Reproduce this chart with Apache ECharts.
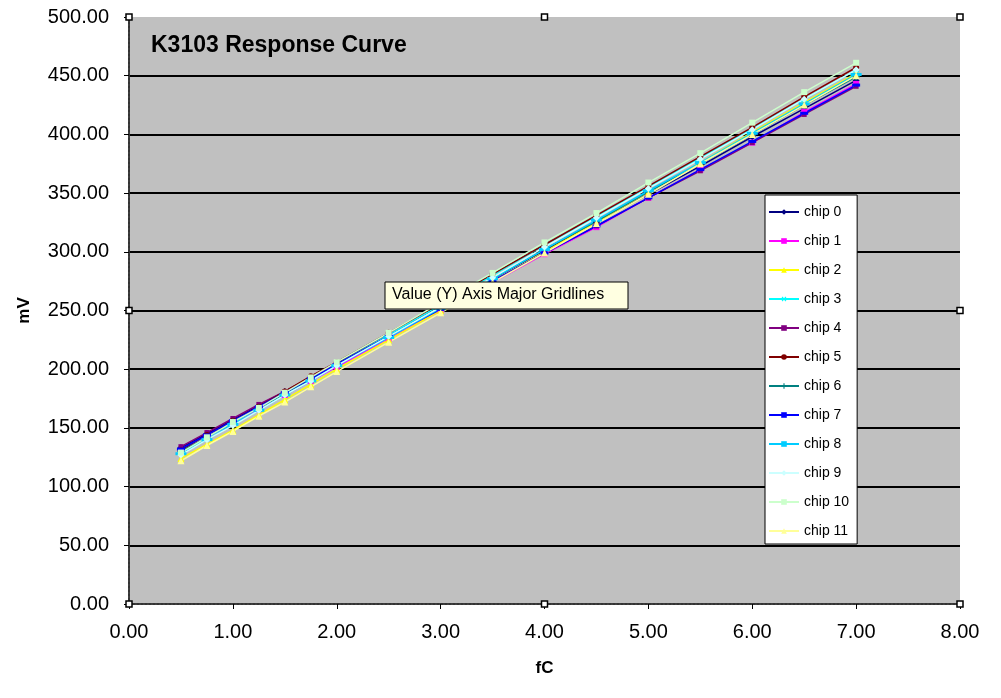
<!DOCTYPE html>
<html>
<head>
<meta charset="utf-8">
<title>K3103 Response Curve</title>
<script src="https://cdn.jsdelivr.net/npm/echarts@6/dist/echarts.min.js"></script>
<style>
    html, body { margin: 0; padding: 0; background: #fff; }
    #responseChart { width: 1001px; height: 698px; }
</style>
</head>
<body>
<div id="responseChart"></div>
<script>
// fC values where each chip was measured
var xValues = [0.5, 0.75, 1, 1.25, 1.5, 1.75, 2, 2.5, 3, 3.5, 4, 4.5, 5, 5.5, 6, 6.5, 7];

var chipNames = ['chip 0', 'chip 1', 'chip 2', 'chip 3', 'chip 4', 'chip 5',
    'chip 6', 'chip 7', 'chip 8', 'chip 9', 'chip 10', 'chip 11'];

// mV
var chip0 = [133, 145, 157, 169, 181, 193, 205, 229, 253, 277, 301, 325, 349, 373, 398, 422, 446];
var chip1 = [130, 142, 154, 166, 178, 190, 202, 226, 250, 274, 298, 321, 346, 370, 393, 419, 443];
var chip2 = [124, 136, 148, 161, 174, 187, 200, 225, 250, 275, 300, 325, 351, 376, 402, 427, 452];
var chip3 = [129, 142, 154, 167, 179, 192, 204, 229, 255, 280, 306, 330, 355, 380, 405, 430, 455];
var chip4 = [134, 146, 158, 170, 181, 193, 204, 228, 252, 275, 299, 322, 346, 369, 393, 417, 441];
var chip5 = [131, 144, 156, 168, 181, 194, 206, 231, 256, 281, 306, 331, 356, 381, 406, 432, 457];
var chip6 = [130, 142, 155, 167, 179, 191, 204, 228, 253, 277, 302, 326, 351, 375, 400, 425, 449];
var chip7 = [132, 144, 156, 168, 180, 192, 204, 228, 251, 275, 299, 322, 346, 370, 394, 418, 442];
var chip8 = [128, 140, 153, 165, 178, 190, 203, 227, 252, 277, 302, 327, 352, 376, 401, 426, 451];
var chip9 = [127, 140, 152, 165, 178, 190, 203, 228, 253, 278, 304, 329, 354, 379, 404, 430, 455];
var chip10 = [129, 142, 155, 167, 180, 193, 206, 231, 257, 282, 308, 333, 359, 384, 410, 436, 461];
var chip11 = [122, 135, 147, 160, 172, 185, 198, 223, 248, 274, 299, 324, 349, 375, 400, 425, 450];

var chipValues = [chip0, chip1, chip2, chip3, chip4, chip5, chip6, chip7, chip8, chip9, chip10, chip11];

// excel default series colours
var chipColors = ['#000080', '#ff00ff', '#ffff00', '#00ffff', '#800080', '#800000',
    '#008080', '#0000ff', '#00ccff', '#ccffff', '#ccffcc', '#ffff99'];

var plusPath = 'path://M4,0H6V4H10V6H6V10H4V6H0V4H4Z';
var chipSymbols = [
    {symbol: 'diamond', size: 7, rotate: 0},
    {symbol: 'rect', size: 6, rotate: 0},
    {symbol: 'triangle', size: 7, rotate: 0},
    {symbol: plusPath, size: 7, rotate: 45},
    {symbol: 'rect', size: 5, rotate: 0},
    {symbol: 'circle', size: 6, rotate: 0},
    {symbol: plusPath, size: 7, rotate: 0},
    {symbol: 'rect', size: [8, 3], rotate: 0},
    {symbol: 'rect', size: [11, 3], rotate: 0},
    {symbol: 'diamond', size: 7, rotate: 0},
    {symbol: 'rect', size: 6, rotate: 0},
    {symbol: 'triangle', size: 7, rotate: 0}
];

var fontName = '"Liberation Sans", Arial, sans-serif';

function buildSeries() {
    var list = [];
    for (var i = 0; i < chipNames.length; i++) {
        var pts = [];
        for (var j = 0; j < xValues.length; j++) {
            pts.push([xValues[j], chipValues[i][j]]);
        }
        list.push({
            name: chipNames[i],
            type: 'line',
            data: pts,
            symbol: chipSymbols[i].symbol,
            symbolSize: chipSymbols[i].size,
            symbolRotate: chipSymbols[i].rotate,
            showAllSymbol: true,
            silent: true,
            itemStyle: {color: chipColors[i]},
            lineStyle: {color: chipColors[i], width: 1.5}
        });
    }
    return list;
}

// hide the split lines at 0 and 500, the border sits there
var gridColors = ['rgba(0,0,0,0)'];
for (var g = 0; g < 9; g++) {
    gridColors.push('#000');
}
gridColors.push('rgba(0,0,0,0)');

var borderLine = {show: true, lineStyle: {color: '#333', width: 2, type: 'dotted'}};

var myChart = echarts.init(document.getElementById('responseChart'));

var option = {
    backgroundColor: '#fff',
    animation: false,
    title: {
        text: 'K3103 Response Curve',
        left: 146,
        top: 29,
        textStyle: {fontFamily: fontName, fontSize: 23, fontWeight: 'bold', color: '#000'}
    },
    grid: {
        left: 129,
        right: 41,
        top: 17,
        bottom: 94,
        show: true,
        backgroundColor: '#c0c0c0',
        borderWidth: 0
    },
    legend: {
        orient: 'vertical',
        left: 765,
        top: 195,
        data: chipNames,
        itemWidth: 30,
        itemHeight: 7,
        itemGap: 15,
        padding: [10, 8, 6, 3],
        backgroundColor: '#fff',
        borderColor: '#000',
        borderWidth: 1,
        borderRadius: 0,
        selectedMode: false,
        textStyle: {fontFamily: fontName, fontSize: 14, lineHeight: 14, color: '#000'}
    },
    xAxis: [{
        type: 'value',
        min: 0,
        max: 8,
        interval: 1,
        name: 'fC',
        nameLocation: 'middle',
        nameGap: 56,
        nameTextStyle: {fontFamily: fontName, fontSize: 17, fontWeight: 'bold', color: '#000'},
        axisLine: borderLine,
        axisTick: {show: true, length: 5, lineStyle: {color: '#000', width: 1}},
        axisLabel: {
            margin: 18,
            fontFamily: '"Liberation Sans Narrow", "Liberation Sans", Arial, sans-serif',
            fontSize: 20,
            color: '#000',
            formatter: function (v) { return v.toFixed(2); }
        },
        splitLine: {show: false}
    }, {
        type: 'value',
        position: 'top',
        min: 0,
        max: 8,
        axisLine: borderLine,
        axisTick: {show: false},
        axisLabel: {show: false},
        splitLine: {show: false}
    }],
    yAxis: [{
        type: 'value',
        min: 0,
        max: 500,
        interval: 50,
        name: 'mV',
        nameLocation: 'middle',
        nameGap: 96,
        nameTextStyle: {fontFamily: fontName, fontSize: 17, fontWeight: 'bold', color: '#000'},
        axisLine: borderLine,
        axisTick: {show: true, length: 5, lineStyle: {color: '#000', width: 1}},
        axisLabel: {
            margin: 20,
            fontFamily: fontName,
            fontSize: 20,
            color: '#000',
            formatter: function (v) { return v.toFixed(2); }
        },
        splitLine: {show: true, lineStyle: {color: gridColors, width: 2}}
    }, {
        type: 'value',
        position: 'right',
        min: 0,
        max: 500,
        axisLine: borderLine,
        axisTick: {show: false},
        axisLabel: {show: false},
        splitLine: {show: false}
    }],
    series: buildSeries(),
    graphic: [{
        // the excel hover tip
        type: 'rect',
        z: 100,
        shape: {x: 385, y: 282, width: 243, height: 27},
        style: {fill: '#ffffe1', stroke: '#000', lineWidth: 1}
    }, {
        type: 'text',
        z: 101,
        x: 392,
        y: 287,
        style: {
            text: 'Value (Y) Axis Major Gridlines',
            font: '16px "Liberation Sans", Arial, sans-serif',
            fill: '#000'
        }
    }]
};

myChart.setOption(option);

// selection handles on the plot border
var handleAt = [[0, 0], [4, 0], [8, 0], [0, 250], [8, 250], [0, 500], [4, 500], [8, 500]];
var handles = [];
for (var h = 0; h < handleAt.length; h++) {
    var p = myChart.convertToPixel({gridIndex: 0}, handleAt[h]);
    handles.push({
        type: 'rect',
        z: 101,
        shape: {x: p[0] - 3, y: p[1] - 3, width: 6, height: 6},
        style: {fill: '#fff', stroke: '#000', lineWidth: 1.5}
    });
}
myChart.setOption({graphic: option.graphic.concat(handles)});
</script>
</body>
</html>
